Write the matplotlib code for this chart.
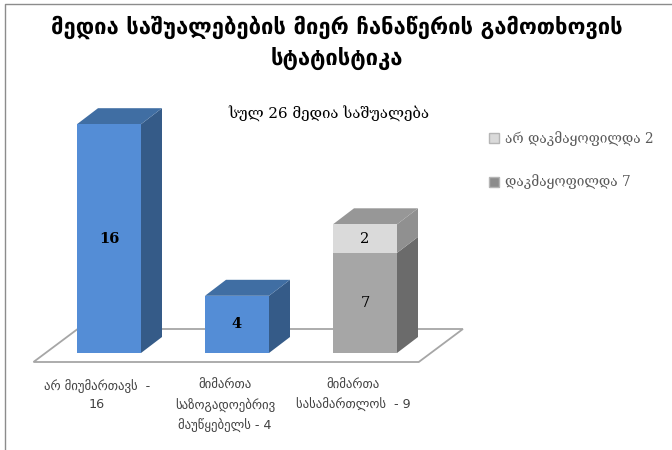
import matplotlib
matplotlib.use("Agg")
import matplotlib.pyplot as plt
from matplotlib.patches import Polygon, Patch

plt.rcParams['font.family'] = ['DejaVu Serif', 'DejaVu Sans']

# chart data
categories = ["არ მიუმართავს  -\n16", "მიმართა\nსაზოგადოებრივ\nმაუწყებელს - 4", "მიმართა\nსასამართლოს  - 9"]
lower_values = [16, 4, 7]
upper_values = [0, 0, 2]
series_names = ["არ დაკმაყოფილდა 2", "დაკმაყოფილდა 7"]
title = "მედია საშუალებების მიერ ჩანაწერის გამოთხოვის\nსტატისტიკა"
subtitle = "სულ 26 მედია საშუალება"

# colours: front, top, side
blue = ("#548dd6", "#406ea3", "#355b88")
gray = ("#a6a6a6", "#979797", "#6b6b6b")
light = ("#dadada", "#979797", "#909090")

W, H = 672, 450
fig = plt.figure(figsize=(W / 100, H / 100), dpi=100)
ax = fig.add_axes([0, 0, 1, 1])

# one category = 128 px, one value unit = 14.3 px, first bar centre at 109 px, baseline at y=353 px
x_unit, y_unit = 128, 14.3
ax.set_xlim(-109 / x_unit, (W - 109) / x_unit)
ax.set_ylim(-(H - 353) / y_unit, 353 / y_unit)
ax.axis("off")

bar_w = 0.5
dx, dy = 21 / x_unit, 16 / y_unit


def box(x, y0, y1, colors, draw_top=True):
    front, top, side = colors
    l, r = x - bar_w / 2, x + bar_w / 2
    ax.add_patch(Polygon([(r, y0), (r + dx, y0 + dy), (r + dx, y1 + dy), (r, y1)], fc=side, ec="none", zorder=3))
    if draw_top:
        ax.add_patch(Polygon([(l, y1), (l + dx, y1 + dy), (r + dx, y1 + dy), (r, y1)], fc=top, ec="none", zorder=3))
    ax.add_patch(Polygon([(l, y0), (r, y0), (r, y1), (l, y1)], fc=front, ec="none", zorder=4))


# floor under the bars
fl, fr = -0.59, 2.42
fy0, fy1 = -9 / y_unit, 24 / y_unit
ax.add_patch(Polygon([(fl, fy0), (fr, fy0), (fr + 0.345, fy1), (fl + 0.345, fy1)],
                     fc="white", ec="#a6a6a6", lw=1.3, zorder=1))

for i, (low, up) in enumerate(zip(lower_values, upper_values)):
    low_colors = gray if up else blue
    box(i, 0, low, low_colors, draw_top=not up)
    ax.text(i, low / 2, str(low), ha="center", va="center", fontsize=10.5,
            fontweight="bold" if not up else "normal", color="black", zorder=5)
    if up:
        box(i, low, low + up, light)
        ax.text(i, low + up / 2, str(up), ha="center", va="center", fontsize=10.5, color="black", zorder=5)
    ax.text(i - 12 / x_unit, -26 / y_unit, categories[i], ha="center", va="top", fontsize=9.2,
            family=['DejaVu Sans'], color="#404040", linespacing=1.5)

fig.text(337 / W, 1 - 43 / H, title, ha="center", va="center", fontsize=15.8, fontweight="bold",
         family=['DejaVu Sans'], color="black", linespacing=1.45)
fig.text(329 / W, 1 - 114 / H, subtitle, ha="center", va="center", fontsize=10.8, color="black")

handles = [Patch(fc=light[0], ec="#b5b5b5"), Patch(fc="#8c8c8c", ec="#b5b5b5")]
ax.legend(handles, series_names, loc="upper left", bbox_to_anchor=(489 / W, 1 - 131 / H), frameon=False,
          fontsize=9.8, handlelength=0.75, handleheight=0.75, handletextpad=0.45, labelspacing=2.1,
          borderpad=0, borderaxespad=0, labelcolor="#595959")

# thin frame around the picture
ax.plot([5 / W, 5 / W, 1], [0, 1 - 4 / H, 1 - 4 / H], transform=ax.transAxes, color="#8c8c8c", lw=1)

fig.savefig("out.png", dpi=100)
